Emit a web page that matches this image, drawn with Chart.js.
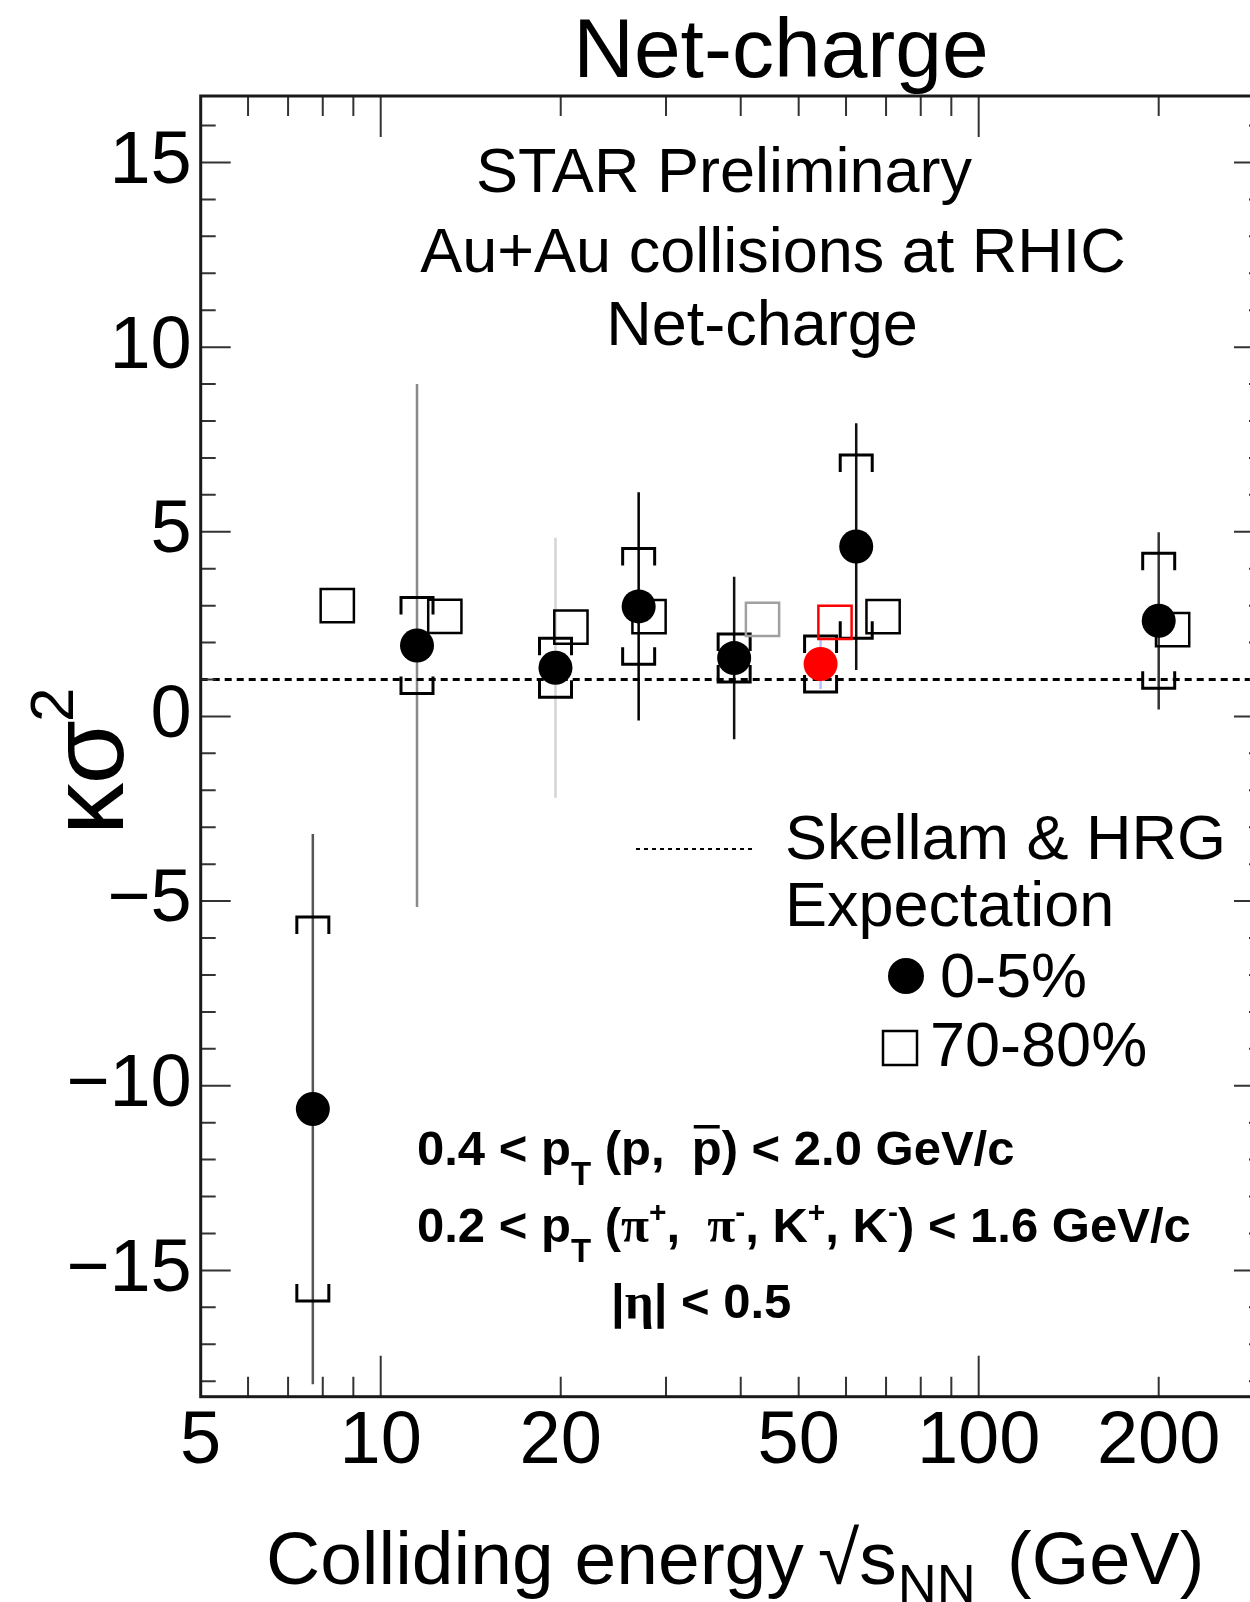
<!DOCTYPE html>
<html>
<head>
<meta charset="utf-8">
<title>Net-charge kappa sigma^2</title>
<script src="https://cdn.jsdelivr.net/npm/chart.js@4.4.1/dist/chart.umd.min.js"></script>
<style>
   html, body { margin: 0; padding: 0; background: #fff; overflow: hidden; }
   #chart-box { width: 1290px; height: 1602px; }
</style>
</head>
<body>
<div id="chart-box"><canvas id="kurtosisChart" width="1290" height="1602"></canvas></div>
<script>
const sans = "'Liberation Sans', Arial, Helvetica, sans-serif";
const serif = "'Liberation Serif', 'Times New Roman', serif";

// net-charge k*sigma^2, 0-5% central
const energies = [7.7, 11.5, 19.6, 27, 39, 54.4, 62.4, 200];
const centralValues = [-10.63, 1.92, 1.32, 2.98, 1.58, 1.42, 4.60, 2.59];
const centralStatErr = [7.45, 7.08, 3.52, 3.09, 2.2, 0.68, 3.34, 2.4];
const centralSysErr = [5.2, 1.3, 0.8, 1.57, 0.65, 0.76, 2.48, 1.83];

// 70-80% peripheral, shifted right of each energy so markers don't sit on top of each other
const peripheralEnergies = [8.46, 12.8, 20.8, 28.1, 43.5, 57.5, 69.2, 211];
const peripheralValues = [3.0, 2.71, 2.42, 2.70, 2.63, 2.55, 2.70, 2.35];

const skellamValue = 1;
const xTickLabels = [5, 10, 20, 50, 100, 200];
const yTickLabels = [-15, -10, -5, 0, 5, 10, 15];
const xRange = [5, 300];
const yRange = [-18.42, 16.8];

// colours per point
const centralColors = ["#000", "#000", "#000", "#000", "#000", "#f00", "#000", "#000"];
const statColors = ["#555", "#8a8a8a", "#d4d4d4", "#000", "#111", "#b4c2ff", "#111", "#333"];
const peripheralColors = ["#000", "#000", "#000", "#000", "#a0a0a0", "#f00", "#000", "#000"];

// stat lines + systematic brackets, under the markers
const errorBars = {
   id: "errorBars",
   beforeDatasetsDraw(chart) {
      const c = chart.ctx, xs = chart.scales.x, ys = chart.scales.y, a = chart.chartArea;
      c.save();
      c.beginPath();
      c.rect(a.left, a.top, a.right - a.left, a.bottom - a.top);
      c.clip();
      energies.forEach((e, i) => {
         const px = xs.getPixelForValue(e);
         const v = centralValues[i];
         c.strokeStyle = statColors[i];
         c.lineWidth = 2.5;
         c.beginPath();
         c.moveTo(px, ys.getPixelForValue(v + centralStatErr[i]));
         c.lineTo(px, ys.getPixelForValue(v - centralStatErr[i]));
         c.stroke();

         const hi = ys.getPixelForValue(v + centralSysErr[i]);
         const lo = ys.getPixelForValue(v - centralSysErr[i]);
         c.strokeStyle = "#000";
         c.lineWidth = 3;
         c.beginPath();
         c.moveTo(px - 16, hi + 17); c.lineTo(px - 16, hi); c.lineTo(px + 16, hi); c.lineTo(px + 16, hi + 17);
         c.moveTo(px - 16, lo - 17); c.lineTo(px - 16, lo); c.lineTo(px + 16, lo); c.lineTo(px + 16, lo - 17);
         c.stroke();
      });
      c.restore();
   }
};

// box around the plot with inward ticks on all four sides
const frame = {
   id: "frame",
   afterDatasetsDraw(chart) {
      const c = chart.ctx, a = chart.chartArea, xs = chart.scales.x, ys = chart.scales.y;
      c.save();
      c.strokeStyle = "#333";
      c.lineWidth = 2;
      c.beginPath();
      for (let d = 1; d <= 100; d *= 10) {
         for (let m = 1; m < 10; m++) {
            const v = m * d;
            if (v <= xRange[0] || v >= xRange[1]) continue;
            const px = xs.getPixelForValue(v);
            const len = m === 1 ? 41 : 20;
            c.moveTo(px, a.bottom); c.lineTo(px, a.bottom - len);
            c.moveTo(px, a.top); c.lineTo(px, a.top + len);
         }
      }
      for (let v = Math.ceil(yRange[0]); v <= yRange[1]; v++) {
         const py = ys.getPixelForValue(v);
         const len = v % 5 === 0 ? 30 : 15;
         c.moveTo(a.left, py); c.lineTo(a.left + len, py);
         c.moveTo(a.right, py); c.lineTo(a.right - len, py);
      }
      c.stroke();
      c.strokeStyle = "#1a1a1a";
      c.lineWidth = 3;
      c.strokeRect(a.left, a.top, a.right - a.left, a.bottom - a.top);
      c.restore();
   }
};

// draws a row of text pieces (subscripts, superscripts, overbars) left to right
function drawRuns(c, x, y, runs) {
   runs.forEach(r => {
      c.font = r.font;
      c.fillText(r.t, x, y + (r.dy || 0));
      const w = c.measureText(r.t).width;
      if (r.bar) {
         c.fillRect(x + 2, y - 40, w - 4, 3.5);
      }
      x += w + (r.gap || 0);
   });
   return x;
}

const texts = {
   id: "texts",
   afterDraw(chart) {
      const c = chart.ctx;
      c.save();
      c.fillStyle = "#000";
      c.textBaseline = "alphabetic";
      c.textAlign = "center";

      c.font = "84px " + sans;
      c.fillText("Net-charge", 781, 77);

      c.font = "63px " + sans;
      c.fillText("STAR Preliminary", 724, 192);
      c.fillText("Au+Au collisions at RHIC", 773, 272);
      c.fillText("Net-charge", 762, 345);

      // legend
      c.textAlign = "left";
      c.fillText("Skellam & HRG", 785, 859);
      c.fillText("Expectation", 785, 926);
      c.fillText("0-5%", 940, 997);
      c.fillText("70-80%", 930, 1066);

      c.strokeStyle = "#000";
      c.lineWidth = 2;
      c.setLineDash([4, 4]);
      c.beginPath();
      c.moveTo(636, 849); c.lineTo(756, 849);
      c.stroke();
      c.setLineDash([]);

      c.beginPath();
      c.arc(906, 976, 18, 0, Math.PI * 2);
      c.fill();
      c.lineWidth = 2.5;
      c.strokeRect(883, 1031, 34, 34);

      // kinematic cuts
      const b = "bold 49px " + sans;
      const bSub = "bold 33px " + sans;
      const bSup = "bold 30px " + sans;
      const g = "bold 51px " + serif;
      drawRuns(c, 417, 1165, [
         { t: "0.4 < p", font: b },
         { t: "T", font: bSub, dy: 20 },
         { t: " (p,  ", font: b },
         { t: "p", font: b, bar: true },
         { t: ") < 2.0 GeV/c", font: b }
      ]);
      drawRuns(c, 417, 1242, [
         { t: "0.2 < p", font: b },
         { t: "T", font: bSub, dy: 20 },
         { t: " (", font: b },
         { t: "\u03c0", font: g },
         { t: "+", font: bSup, dy: -20 },
         { t: ",  ", font: b },
         { t: "\u03c0", font: g },
         { t: "-", font: bSup, dy: -20 },
         { t: ", K", font: b },
         { t: "+", font: bSup, dy: -20 },
         { t: ", K", font: b },
         { t: "-", font: bSup, dy: -20 },
         { t: ") < 1.6 GeV/c", font: b }
      ]);
      drawRuns(c, 611, 1318, [
         { t: "|", font: b },
         { t: "\u03b7", font: g },
         { t: "| < 0.5", font: b }
      ]);

      // x axis title
      c.font = "75px " + sans;
      c.fillText("Colliding energy", 266, 1584);
      drawRuns(c, 818, 1584, [
         { t: "\u221a", font: "75px " + sans },
         { t: "s", font: "75px " + sans, gap: 1 },
         { t: "NN", font: "54px " + sans, dy: 18 }
      ]);
      c.font = "74px " + sans;
      c.fillText("(GeV)", 1007, 1584);

      // y axis title
      c.translate(123, 835);
      c.rotate(-Math.PI / 2);
      c.font = "104px " + sans;
      c.fillText("\u03ba\u03c3", 0, 0);
      const w = c.measureText("\u03ba\u03c3").width;
      c.font = "62px " + sans;
      c.fillText("2", w - 2, -50);
      c.restore();
   }
};

const ctx = document.getElementById("kurtosisChart").getContext("2d");
new Chart(ctx, {
   type: "scatter",
   data: {
      datasets: [
         {
            label: "0-5%",
            data: energies.map((e, i) => ({ x: e, y: centralValues[i] })),
            pointStyle: "circle",
            pointRadius: 17,
            pointBorderWidth: 0,
            pointBackgroundColor: centralColors,
            pointBorderColor: centralColors
         },
         {
            label: "70-80%",
            data: peripheralEnergies.map((e, i) => ({ x: e, y: peripheralValues[i] })),
            pointStyle: "rect",
            pointRadius: 23.5,
            pointBorderWidth: 2.5,
            pointBackgroundColor: "rgba(0,0,0,0)",
            pointBorderColor: peripheralColors
         },
         {
            label: "Skellam & HRG Expectation",
            type: "line",
            showLine: true,
            data: [{ x: xRange[0], y: skellamValue }, { x: xRange[1], y: skellamValue }],
            borderColor: "#000",
            borderWidth: 3,
            borderDash: [7, 5],
            pointRadius: 0,
            fill: false
         }
      ]
   },
   options: {
      responsive: false,
      animation: false,
      devicePixelRatio: 1,
      events: [],
      layout: { padding: { top: 96, right: 17.5, left: 0, bottom: 0 } },
      plugins: {
         legend: { display: false },
         tooltip: { enabled: false },
         title: { display: false }
      },
      scales: {
         x: {
            type: "logarithmic",
            min: xRange[0],
            max: xRange[1],
            grid: { display: false, drawTicks: false },
            border: { display: false },
            afterBuildTicks: axis => { axis.ticks = xTickLabels.map(v => ({ value: v })); },
            afterFit: scale => { scale.height = 205.3; },
            ticks: {
               autoSkip: false,
               maxRotation: 0,
               padding: 1,
               color: "#000",
               font: { family: sans, size: 74 },
               callback: v => String(v)
            }
         },
         y: {
            min: yRange[0],
            max: yRange[1],
            grid: { display: false, drawTicks: false },
            border: { display: false },
            afterBuildTicks: axis => { axis.ticks = yTickLabels.map(v => ({ value: v })); },
            afterFit: scale => { scale.width = 200.7; },
            ticks: {
               padding: 9,
               color: "#000",
               font: { family: sans, size: 74 },
               callback: v => (v < 0 ? "\u2212" + Math.abs(v) : String(v))
            }
         }
      }
   },
   plugins: [errorBars, frame, texts]
});
</script>
</body>
</html>
